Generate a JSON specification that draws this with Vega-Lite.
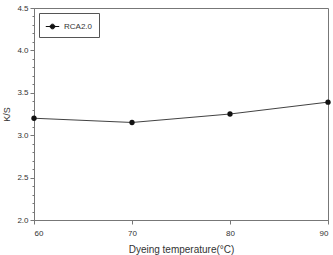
{
  "$schema": "https://vega.github.io/schema/vega-lite/v6.json",
  "width": 294,
  "height": 212,
  "autosize": {"type": "none"},
  "padding": {"left": 34, "top": 8, "right": 5, "bottom": 35},
  "background": "white",
  "config": {
    "font": "Liberation Sans",
    "view": {"stroke": "#777", "strokeWidth": 1},
    "axis": {
      "domainColor": "#777",
      "tickColor": "#777",
      "grid": false,
      "labelColor": "#333",
      "titleColor": "#333",
      "labelFontSize": 8,
      "titleFontSize": 10,
      "titleFontWeight": "normal"
    }
  },
  "data": {
    "values": [
      {"temp": 60, "ks": 3.20, "series": "RCA2.0"},
      {"temp": 70, "ks": 3.15, "series": "RCA2.0"},
      {"temp": 80, "ks": 3.25, "series": "RCA2.0"},
      {"temp": 90, "ks": 3.39, "series": "RCA2.0"}
    ]
  },
  "encoding": {
    "x": {
      "field": "temp",
      "type": "quantitative",
      "scale": {"domain": [60, 90], "nice": false, "zero": false},
      "axis": {
        "values": [60, 70, 80, 90],
        "tickSize": 4,
        "labelPadding": 5,
        "title": "Dyeing temperature(°C)",
        "titlePadding": 7
      }
    },
    "y": {
      "field": "ks",
      "type": "quantitative",
      "scale": {"domain": [2.0, 4.5], "nice": false, "zero": false},
      "axis": {
        "values": [2.0, 2.1, 2.2, 2.3, 2.4, 2.5, 2.6, 2.7, 2.8, 2.9, 3.0, 3.1, 3.2, 3.3, 3.4, 3.5, 3.6, 3.7, 3.8, 3.9, 4.0, 4.1, 4.2, 4.3, 4.4, 4.5],
        "format": ".1f",
        "labelExpr": "abs(datum.value * 2 - round(datum.value * 2)) < 0.01 ? datum.label : ''",
        "tickSize": {"condition": {"test": "abs(datum.value * 2 - round(datum.value * 2)) < 0.01", "value": 4}, "value": 2},
        "labelPadding": 2,
        "title": "K/S",
        "titleFontSize": 9,
        "titlePadding": 5
      }
    },
    "color": {
      "field": "series",
      "type": "nominal",
      "scale": {"range": ["#111"]},
      "legend": {
        "title": null,
        "orient": "top-left",
        "offset": 5,
        "strokeColor": "#555",
        "padding": 6,
        "labelFontSize": 8,
        "labelColor": "#333",
        "symbolType": "M-1,0H1M-0.35,0A0.35,0.35 0 1,1 0.35,0A0.35,0.35 0 1,1 -0.35,0Z",
        "symbolSize": 180,
        "symbolStrokeWidth": 1,
        "symbolFillColor": "#111",
        "symbolStrokeColor": "#333"
      }
    }
  },
  "layer": [
    {"mark": {"type": "line", "color": "#444", "strokeWidth": 0.8}},
    {"mark": {"type": "point", "filled": true, "size": 28, "opacity": 1, "color": "#000"}}
  ]
}
